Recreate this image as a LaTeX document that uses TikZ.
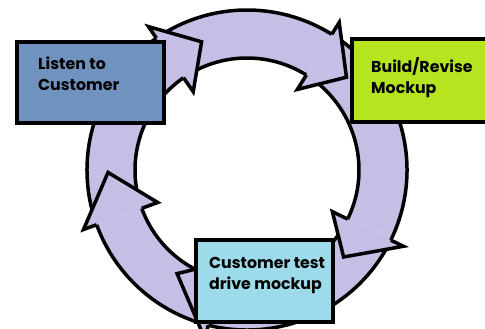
\documentclass[tikz,border=0pt]{standalone}
\usepackage{fontspec}
\setmainfont{Poppins}
\usetikzlibrary{positioning,calc}
\definecolor{ringfill}{RGB}{198,190,228}
\definecolor{listenblue}{RGB}{112,146,190}
\definecolor{buildgreen}{RGB}{182,228,30}
\definecolor{testcyan}{RGB}{157,218,234}
\tikzstyle{stage}=[rectangle,
                   draw=black,
                   line width=4pt,
                   inner sep=0pt,
                   anchor=north west]
\tikzstyle{caption}=[inner sep=0pt,
                     align=left,
                     anchor=north west,
                     font=\bfseries\fontsize{15.8}{21}\selectfont]
\tikzstyle{rim}=[draw=black, line width=3.5pt]
% one piece of the ring: from angle #1 clockwise to angle #2
\newcommand{\cycleshaft}[2]{%
  \fill[ringfill] (#1:160) arc[start angle=#1,end angle=#2,radius=160]
    -- (#2:112) arc[start angle=#2,end angle=#1,radius=112] -- cycle;
  \draw[rim] (#1:160) arc[start angle=#1,end angle=#2,radius=160];
  \draw[rim] (#1:112) arc[start angle=#1,end angle=#2,radius=112];}
% arrow head: base angle #1, tip angle #2, tip radius #3
\newcommand{\cyclehead}[3]{%
  \fill[ringfill] (#1:174) -- (#2:#3) -- (#1:95) -- cycle;
  \draw[rim] (#1:160) -- (#1:174) -- (#2:#3) -- (#1:95) -- (#1:112);}

\begin{document}
\begin{tikzpicture}[x=1pt,y=1pt]
    \useasboundingbox (0,0) rectangle (485,329);
    \begin{scope}[shift={(247,159)}]
        \cycleshaft{256}{200}
        \cycleshaft{200}{124.5}
        \cycleshaft{124.5}{58}
        \cycleshaft{58}{-25}
        \cycleshaft{-25}{-104}
        \cyclehead{200}{181}{139}
        \cyclehead{124.5}{109.5}{136}
        \cyclehead{58}{43}{136}
        \cyclehead{-26}{-42}{130}
        \cyclehead{-104}{-124}{125}
    \end{scope}
    \node[stage, fill=listenblue, minimum width=147, minimum height=81] (listen) at (15,289) {};
    \node[stage, fill=buildgreen, minimum width=150, minimum height=83] (build) at (350,292) {};
    \node[stage, fill=testcyan, minimum width=137, minimum height=82] (test) at (194,91) {};
    \node[caption, below right=17pt and 23pt of listen.north west] (listentext) {Listen to\\Customer};
    \node[caption, below right=20pt and 21pt of build.north west] (buildtext) {Build/Revise\\Mockup};
    \node[caption, below right=19pt and 15pt of test.north west] (testtext) {Customer test\\drive mockup};
\end{tikzpicture}
\end{document}
